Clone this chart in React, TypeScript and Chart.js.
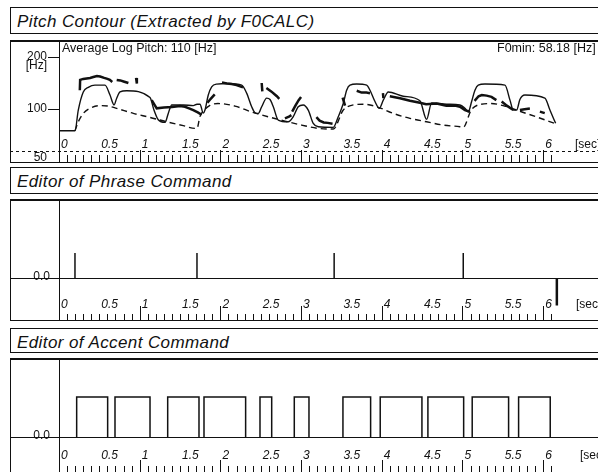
import React, { useEffect, useRef } from "react";
import { Chart, registerables } from "chart.js";

Chart.register(...registerables);

// ---------------- data ----------------
const TIME_MIN = 0;
const TIME_MAX = 6.68; // seconds visible across the window
const timeLabelValues = [0, 0.5, 1, 1.5, 2, 2.5, 3, 3.5, 4, 4.5, 5, 5.5, 6];
const timeLabels = ["0", "0.5", "1", "1.5", "2", "2.5", "3", "3.5", "4", "4.5", "5", "5.5", "6"];
const rulerEnd = 6.1;

const pitchTickValues = [200, 100];
const pitchTickLabels = ["200", "100"];
const pitchMin = 48.1;
const pitchMax = 251.4;

// model (synthesised) F0 contour
const modelT = [
  0, 0.198, 0.239, 0.301, 0.363, 0.446, 0.57, 0.632, 0.682, 0.715, 0.756, 0.839, 1.128, 1.177, 1.23, 1.314,
  1.354, 1.397, 1.54, 1.664, 1.71, 1.747, 1.788, 1.809, 1.85, 1.892, 1.954, 2.098, 2.264, 2.326, 2.388, 2.429,
  2.47, 2.512, 2.574, 2.615, 2.656, 2.717, 2.841, 2.903, 2.965, 3.027, 3.089, 3.151, 3.213, 3.399, 3.461, 3.523,
  3.565, 3.606, 3.689, 3.813, 3.854, 3.916, 3.969, 4.019, 4.081, 4.266, 4.473, 4.556, 4.618, 4.804, 4.969, 5.031,
  5.072, 5.114, 5.155, 5.196, 5.279, 5.527, 5.589, 5.63, 5.672, 5.712, 5.774, 6.022, 6.084, 6.155,
];
const modelHz = [
  74.2, 74.2, 98, 125, 133, 137, 137, 120, 105, 115, 125, 127, 116, 98, 86, 83,
  93.7, 105, 105, 104, 106, 106, 94, 98, 120, 134, 139, 140, 137, 123, 102.5, 94.5,
  93.7, 102.5, 115, 113, 102.5, 85.7, 83.7, 89.6, 102.5, 105, 98, 81.9, 78.3, 77.7, 89.6, 107,
  128, 137, 139, 137, 128, 110, 100.3, 112, 125, 118, 111, 86.5, 108, 106, 105, 100.3,
  95.8, 110, 128, 137, 139, 137, 112, 98, 98, 113, 120, 115, 98, 82,
];

// phrase component (dashed)
const phraseT = [
  0.198, 0.239, 0.301, 0.384, 0.508, 0.611, 0.715, 0.921, 1.128, 1.335, 1.54, 1.685, 1.71, 1.747, 1.809, 1.871,
  1.97, 2.181, 2.388, 2.59, 2.8, 3.007, 3.213, 3.4, 3.523, 3.647, 3.771, 3.937, 4.142, 4.349, 4.556, 4.762,
  4.969, 5.01, 5.109, 5.233, 5.357, 5.523, 5.729, 5.936, 6.142,
];
const phraseHz = [
  74.2, 83.7, 93.7, 100.3, 104, 103.4, 100.3, 93.7, 88.8, 83.7, 79.5, 76.6, 76.6, 90, 99, 104.5,
  107, 103.4, 95.5, 89.6, 84.5, 80.1, 76.6, 76, 98, 105, 106, 102.5, 93.7, 87.7, 83.7, 80.1,
  78.3, 77.7, 98, 106, 107, 103.4, 95.8, 88.8, 82,
];

// extracted F0 (null = unvoiced gap)
const f0T = [
  0.258, 0.262, 0.3, 0.385, 0.425, 0.47, 0.51, 0.56, 0.6, 0.63, 0.66, 0.66,
  0.715, 0.76, 0.8, 0.86, 0.86,
  0.955, 0.965, 0.965,
  1.149, 1.19, 1.211, 1.3, 1.4, 1.5, 1.561, 1.62, 1.664, 1.72, 1.768, 1.768,
  1.84, 1.88, 1.93, 1.93,
  2.02, 2.08, 2.14, 2.2, 2.28, 2.28,
  2.512, 2.52, 2.52,
  2.57, 2.63, 2.7, 2.73, 2.73,
  2.8, 2.85, 2.88, 2.88,
  2.89, 2.93, 2.97, 3.0, 3.0,
  3.19, 3.23, 3.28, 3.33, 3.39, 3.39,
  3.515, 3.545, 3.545,
  3.69, 3.75, 3.81, 3.854, 3.854,
  4.015, 4.02, 4.02,
  4.1, 4.226, 4.35, 4.473, 4.55, 4.68, 4.8, 4.907, 4.969, 5.031, 5.093, 5.093,
  5.15, 5.2, 5.24, 5.3, 5.36, 5.42, 5.42,
  5.486, 5.55, 5.63, 5.63,
  5.712, 5.77, 5.836, 5.836,
  5.96, 6.02,
];
const f0Hz = [
  128, 147, 149, 151, 153, 155, 154, 151, 149, 147, 143, null,
  147, 146, 144, 141, null,
  151, 140, null,
  112, 104, 100.3, 101.5, 102, 103.4, 102.5, 100, 98, 95, 92, null,
  108, 114, 121, null,
  142, 140, 139, 137, 133, null,
  141, 126, null,
  132, 126, 118, 114, null,
  87.7, 89.6, 91.6, null,
  96, 104, 112, 117, null,
  89, 85, 83, 82.5, 81.5, null,
  116, 104, null,
  127, 124, 124, 123, null,
  123, 115, null,
  118, 115, 111, 108, 106, 107, 104, 104, 102.5, 98, 95.8, null,
  111, 118, 120, 119, 117, 112, null,
  110, 104, 98, null,
  98, 99, 100, null,
  96, 94,
];

// phrase commands
const phraseCmdT = [0.198, 1.71, 3.41, 5.01];
const phraseCmdAmp = [0.3, 0.3, 0.3, 0.3];
const resetCmdT = [6.17];
const resetCmdAmp = [-0.33];
const phraseMin = -0.516;
const phraseMax = 0.948;

// accent commands
const accentOn = [0.219, 0.694, 1.347, 1.797, 2.491, 2.916, 3.519, 3.981, 4.572, 5.121, 5.696];
const accentOff = [0.603, 1.128, 1.735, 2.313, 2.636, 3.098, 3.862, 4.498, 5.015, 5.572, 6.088];
const accentAmp = [0.5, 0.5, 0.5, 0.5, 0.5, 0.5, 0.5, 0.5, 0.5, 0.5, 0.5];
const accentMin = -0.45;
const accentMax = 0.9875;

// ---------------- styling ----------------
const INK = "#111";
const FONT = '"Liberation Sans", Arial, Helvetica, sans-serif';
const W = 598;
const AXIS_X = 59;

type PanelCfg = {
  labelY: number;
  base: number;
  minor: number;
  major: number;
  secX: number;
  dottedY?: number;
  zero?: boolean;
  pitch?: boolean;
};

function panelPlugin(cfg: PanelCfg) {
  return {
    id: "panelDeco",
    beforeDatasetsDraw(chart: any) {
      const { ctx, width, height, chartArea } = chart;
      const xs = chart.scales.x;
      const ys = chart.scales.y;
      const seg = (x1: number, y1: number, x2: number, y2: number) => {
        ctx.beginPath();
        ctx.moveTo(x1, y1);
        ctx.lineTo(x2, y2);
        ctx.stroke();
      };
      ctx.save();
      ctx.strokeStyle = INK;
      ctx.fillStyle = INK;
      // frame
      ctx.lineWidth = 2;
      seg(10, 1, width, 1);
      ctx.lineWidth = 1;
      seg(10.5, 0, 10.5, height);
      seg(10, cfg.base + 0.5, width, cfg.base + 0.5);
      // vertical axis
      seg(chartArea.left + 0.5, 0, chartArea.left + 0.5, height);

      if (cfg.dottedY !== undefined) {
        ctx.setLineDash([3, 3]);
        seg(10, cfg.dottedY + 0.5, width, cfg.dottedY + 0.5);
        ctx.setLineDash([]);
      }

      // time ruler
      const n = Math.round(rulerEnd * 10);
      for (let i = 0; i <= n; i++) {
        const px = Math.round(xs.getPixelForValue(i / 10)) + 0.5;
        const len = i % 10 === 0 ? cfg.major : cfg.minor;
        seg(px, cfg.base - len, px, cfg.base);
      }
      ctx.font = "italic 12px " + FONT;
      ctx.textAlign = "left";
      ctx.textBaseline = "middle";
      timeLabelValues.forEach((v, i) => {
        const px = xs.getPixelForValue(v);
        ctx.fillText(timeLabels[i], px + 2, cfg.labelY);
      });
      ctx.font = "12px " + FONT;
      ctx.fillText("[sec]", cfg.secX, cfg.labelY);

      if (cfg.zero) {
        const py = Math.round(ys.getPixelForValue(0)) + 0.5;
        seg(10, py, width, py);
        ctx.font = "12px " + FONT;
        ctx.textAlign = "right";
        ctx.textBaseline = "alphabetic";
        ctx.fillText("0.0", 50, py + 1);
      }

      if (cfg.pitch) {
        ctx.font = "12px " + FONT;
        ctx.textAlign = "right";
        ctx.textBaseline = "middle";
        pitchTickValues.forEach((v, i) => {
          const py = Math.round(ys.getPixelForValue(v)) + 0.5;
          seg(48, py, chartArea.left, py);
          ctx.fillText(pitchTickLabels[i], 47, py - 1);
        });
        ctx.fillText("[Hz]", 47, ys.getPixelForValue(200) + 9);
        ctx.fillText("50", 47, ys.getPixelForValue(50) - 2);
        ctx.font = "12.5px " + FONT;
        ctx.textAlign = "left";
        ctx.textBaseline = "alphabetic";
        ctx.fillText("Average Log Pitch: 110 [Hz]", 62, 12);
        ctx.fillText("F0min: 58.18 [Hz]", 497, 12);
      }
      ctx.restore();
    },
  };
}

function baseOptions(yScale: any) {
  return {
    animation: false,
    responsive: false,
    devicePixelRatio: 1,
    events: [],
    layout: { padding: { left: AXIS_X, right: 0, top: 0, bottom: 0 } },
    plugins: { legend: { display: false }, tooltip: { enabled: false } },
    scales: {
      x: { type: "linear", min: TIME_MIN, max: TIME_MAX, display: false },
      y: { ...yScale, display: false },
    },
  };
}

function pts(ts: number[], vs: (number | null)[]) {
  return ts.map((t, i) => ({ x: t, y: vs[i] }));
}

function stems(ts: number[], amps: number[]) {
  const out: any[] = [];
  ts.forEach((t, i) => {
    out.push({ x: t, y: 0 }, { x: t, y: amps[i] }, { x: t, y: null });
  });
  return out;
}

function boxes(on: number[], off: number[], amps: number[]) {
  const out: any[] = [];
  on.forEach((t, i) => {
    out.push({ x: t, y: 0 }, { x: t, y: amps[i] }, { x: off[i], y: amps[i] }, { x: off[i], y: 0 }, { x: off[i], y: null });
  });
  return out;
}

const titleStyle = (top: number, height: number): React.CSSProperties => ({
  position: "absolute",
  left: 10,
  top,
  width: 640,
  height,
  boxSizing: "border-box",
  border: "1px solid " + INK,
  font: "italic 17px " + FONT,
  letterSpacing: "0.4px",
  lineHeight: "19px",
  paddingTop: 4,
  paddingLeft: 6,
  color: INK,
  whiteSpace: "nowrap",
});

export default function App() {
  const c1 = useRef<HTMLCanvasElement>(null);
  const c2 = useRef<HTMLCanvasElement>(null);
  const c3 = useRef<HTMLCanvasElement>(null);

  useEffect(() => {
    const pitch = new Chart(c1.current as HTMLCanvasElement, {
      type: "line",
      data: {
        datasets: [
          {
            data: pts(modelT, modelHz),
            borderColor: INK,
            borderWidth: 1.4,
            pointRadius: 0,
            cubicInterpolationMode: "monotone",
          },
          {
            data: pts(phraseT, phraseHz),
            borderColor: INK,
            borderWidth: 1.4,
            borderDash: [6, 4],
            pointRadius: 0,
            cubicInterpolationMode: "monotone",
          },
          {
            data: pts(f0T, f0Hz),
            borderColor: INK,
            borderWidth: 2.5,
            pointRadius: 0,
            spanGaps: false,
            tension: 0,
          },
        ],
      },
      options: baseOptions({ type: "logarithmic", min: pitchMin, max: pitchMax }) as any,
      plugins: [panelPlugin({ labelY: 104.5, base: 122, minor: 7, major: 12, secX: 575, dottedY: 111, pitch: true })],
    } as any);

    const phrase = new Chart(c2.current as HTMLCanvasElement, {
      type: "line",
      data: {
        datasets: [
          { data: stems(phraseCmdT, phraseCmdAmp), borderColor: INK, borderWidth: 1.5, pointRadius: 0, spanGaps: false },
          { data: stems(resetCmdT, resetCmdAmp), borderColor: INK, borderWidth: 2.5, pointRadius: 0, spanGaps: false },
        ],
      },
      options: baseOptions({ type: "linear", min: phraseMin, max: phraseMax }) as any,
      plugins: [panelPlugin({ labelY: 105.5, base: 121, minor: 6, major: 14, secX: 576, zero: true })],
    } as any);

    const accent = new Chart(c3.current as HTMLCanvasElement, {
      type: "line",
      data: {
        datasets: [
          { data: boxes(accentOn, accentOff, accentAmp), borderColor: INK, borderWidth: 1.5, pointRadius: 0, spanGaps: false },
        ],
      },
      options: baseOptions({ type: "linear", min: accentMin, max: accentMax }) as any,
      plugins: [panelPlugin({ labelY: 97.5, base: 114, minor: 6, major: 12, secX: 580, zero: true })],
    } as any);

    return () => {
      pitch.destroy();
      phrase.destroy();
      accent.destroy();
    };
  }, []);

  const canvasStyle = (top: number, h: number): React.CSSProperties => ({
    position: "absolute",
    left: 0,
    top,
    width: W,
    height: h,
    display: "block",
  });

  return (
    <div style={{ position: "fixed", left: 0, top: 0, width: W, height: 472, overflow: "hidden", background: "#fff" }}>
      <div style={titleStyle(7, 27)}>Pitch Contour (Extracted by F0CALC)</div>
      <canvas ref={c1} width={W} height={123} style={canvasStyle(40, 123)} />
      <div style={titleStyle(167, 27)}>Editor of Phrase Command</div>
      <canvas ref={c2} width={W} height={122} style={canvasStyle(199, 122)} />
      <div style={titleStyle(328, 25)}>Editor of Accent Command</div>
      <canvas ref={c3} width={W} height={115} style={canvasStyle(358, 115)} />
    </div>
  );
}
